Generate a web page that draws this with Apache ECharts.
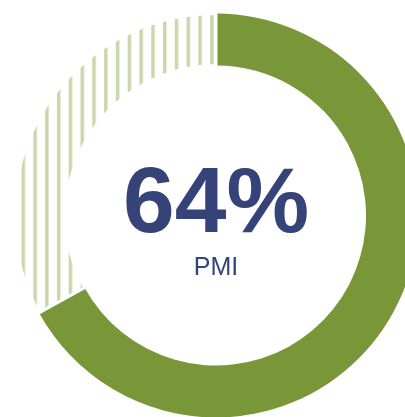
<!DOCTYPE html>
<html lang="en" style="height: 100%">
<head>
  <meta charset="utf-8">
  <title>pmi_donut</title>
  <style>
    html, body { height: 100%; margin: 0; background: #fff; }
  </style>
</head>
<body>
  <div id="container" style="width: 405px; height: 417px"></div>
  <script src="https://cdn.jsdelivr.net/npm/echarts@6/dist/echarts.min.js"></script>
  <script type="text/javascript">
    // share of the ring, as drawn in the picture
    var names = ['PMI', 'Rest'];
    var values = [67, 33];
    var bigLabel = '64%';
    var subLabel = 'PMI';

    // vertical stripe pattern for the remainder
    var tile = document.createElement('canvas');
    tile.width = 12;
    tile.height = 12;
    var tctx = tile.getContext('2d');
    tctx.fillStyle = '#fff';
    tctx.fillRect(0, 0, 12, 12);
    tctx.fillStyle = '#cbd6aa';
    tctx.fillRect(0, 0, 3.5, 12);

    var dom = document.getElementById('container');
    var myChart = echarts.init(dom, null, { renderer: 'canvas' });

    var option = {
      animation: false,
      series: [
        {
          type: 'pie',
          center: [216, 215.5],
          radius: [150, 202],
          startAngle: 90,
          clockwise: true,
          silent: true,
          label: { show: false },
          labelLine: { show: false },
          data: [
            { name: names[0], value: values[0], itemStyle: { color: '#799738' } },
            {
              name: names[1],
              value: values[1],
              itemStyle: {
                color: { image: tile, repeat: 'repeat', x: 9.8, y: 0, scaleX: 0.982, scaleY: 1 },
                borderColor: '#fff',
                borderWidth: 3
              }
            }
          ]
        }
      ],
      graphic: [
        {
          type: 'text',
          x: 216,
          y: 206,
          style: {
            text: bigLabel,
            fill: '#354378',
            font: 'bold 93px "Liberation Sans", Arial, sans-serif',
            textAlign: 'center',
            textVerticalAlign: 'middle'
          }
        },
        {
          type: 'text',
          x: 216,
          y: 268,
          style: {
            text: subLabel,
            fill: '#354378',
            font: '25px "Liberation Sans", Arial, sans-serif',
            textAlign: 'center',
            textVerticalAlign: 'middle'
          }
        }
      ]
    };

    myChart.setOption(option);
    window.addEventListener('resize', myChart.resize);
  </script>
</body>
</html>
